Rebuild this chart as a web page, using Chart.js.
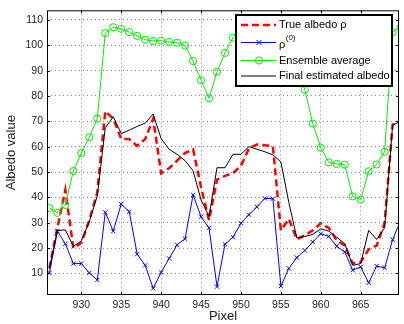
<!DOCTYPE html>
<html>
<head>
<meta charset="utf-8">
<script src="https://cdn.jsdelivr.net/npm/chart.js@4/dist/chart.umd.min.js"></script>
<style>
html,body{margin:0;padding:0;background:#fff;}
#wrap{width:404px;height:324px;}
</style>
</head>
<body>
<div id="wrap"><canvas id="c" width="404" height="324"></canvas></div>
<script>
const pixels = [926,927,928,929,930,931,932,933,934,935,936,937,938,939,940,941,942,943,944,945,946,947,948,949,950,951,952,953,954,955,956,957,958,959,960,961,962,963,964,965,966,967,968,969,970];
const trueAlbedo = [12,28,43,20,22,31,42,74,71,63,63,60.3,63,71,49.5,51.5,54.5,57.5,59,44,31,47,48.5,49.5,52.5,59.3,60.9,60.6,60.2,27,31.5,23.5,25,27,29.8,28,23,21.1,13.9,14.5,19.5,21,30,68.7,70];
const rho0 = [10.2,26.7,21.7,13.9,13.9,10.2,7.4,34.1,26.7,37.4,34.4,17.6,13.2,4.1,10.4,15.9,21.3,23.7,41,32.4,28,4.8,21.5,24.3,29.8,33.2,36.3,39.6,39.5,5,12,16.3,19.1,22.4,25.7,24.6,20.7,18.5,11.3,12.6,6.3,12.9,12.2,23.3,30.9];
const ensembleAvg = [35.8,33.9,37.0,50.4,57.5,63.7,71.1,104.8,107.1,106.5,105.2,103.7,102.2,101.7,101.8,101.3,101,99.9,93.8,86.2,79.1,89.6,97,103,107,108,108,107,106,105,103,95,82.4,69.1,59.6,53.8,53.2,52.9,40.4,39.1,50.3,53,58,105.2,107];
const finalAlbedo = [12,26.9,27.2,20.7,22.8,30.5,40.6,67.5,71.8,65.2,66.5,68,69.3,72.9,63.2,59,57,54.5,50.5,39,32.5,51.7,51.7,57,57,60,59,58,56.8,54,38,24,24.6,25.4,27.6,26.7,24.3,21.7,13.2,13.9,27,23.4,28,68.5,70];
const xTicks = [930,935,940,945,950,955,960,965];
const yTicks = [10,20,30,40,50,60,70,80,90,100,110];
const legendLabels = ['True albedo \u03C1', '\u03C1', 'Ensemble average', 'Final estimated albedo'];

const pts = arr => pixels.map((p,i)=>({x:p,y:arr[i]}));
const FONT = "'Liberation Sans', Arial, Helvetica, sans-serif";

const framePlugin = {
  id:'frame',
  afterDatasetsDraw(chart){
    const {ctx, chartArea:a} = chart;
    ctx.save();
    ctx.strokeStyle = '#000';
    ctx.lineWidth = 1;
    ctx.strokeRect(a.left+0.5, a.top+0.5, a.right-a.left-1, a.bottom-a.top-1);
    // inner tick marks
    const xs = chart.scales.x, ys = chart.scales.y;
    ctx.beginPath();
    xTicks.forEach(t=>{const px=Math.round(xs.getPixelForValue(t))+0.5; ctx.moveTo(px,a.bottom); ctx.lineTo(px,a.bottom-3); ctx.moveTo(px,a.top); ctx.lineTo(px,a.top+3);});
    yTicks.forEach(t=>{const py=Math.round(ys.getPixelForValue(t))+0.5; ctx.moveTo(a.left,py); ctx.lineTo(a.left+3,py); ctx.moveTo(a.right,py); ctx.lineTo(a.right-3,py);});
    ctx.stroke();
    // legend
    const L=236,T=15,R=392,B=86;
    ctx.fillStyle='#fff';
    ctx.fillRect(L,T,R-L,B-T);
    ctx.lineWidth=2;
    ctx.strokeRect(L,T,R-L,B-T);
    const rows=[25,42.5,60.5,76];
    const ds = chart.data.datasets;
    const x0=241,x1=276,xm=259;
    rows.forEach((ry,i)=>{
      const d=ds[i];
      ctx.save();
      ctx.strokeStyle=d.borderColor;
      ctx.lineWidth=d.borderWidth;
      ctx.setLineDash(d.borderDash||[]);
      ctx.beginPath(); ctx.moveTo(x0,ry); ctx.lineTo(x1,ry); ctx.stroke();
      ctx.setLineDash([]);
      if(d.pointStyle==='circle'){
        ctx.lineWidth=1; ctx.beginPath(); ctx.arc(xm,ry,3.6,0,Math.PI*2); ctx.stroke();
      } else if(d.pointStyle==='crossRot'){
        ctx.lineWidth=1; ctx.beginPath();
        ctx.moveTo(xm-2.5,ry-2.5); ctx.lineTo(xm+2.5,ry+2.5);
        ctx.moveTo(xm-2.5,ry+2.5); ctx.lineTo(xm+2.5,ry-2.5); ctx.stroke();
      }
      ctx.restore();
      ctx.fillStyle='#000';
      ctx.font='11px '+FONT;
      ctx.textBaseline='middle';
      ctx.textAlign='left';
      if(i===1){
        ctx.fillText(legendLabels[i],279,ry+2);
        const w=ctx.measureText(legendLabels[i]).width;
        ctx.font='8px '+FONT;
        ctx.fillText('(0)',279+w+0.5,ry-5);
      } else {
        ctx.fillText(legendLabels[i],279,ry);
      }
    });
    ctx.restore();
  }
};

new Chart(document.getElementById('c'),{
  type:'line',
  data:{
    datasets:[
      {label:legendLabels[0], data:pts(trueAlbedo), borderColor:'#ff0000', borderWidth:2.5, borderDash:[7,4], pointRadius:0, fill:false, tension:0, order:4},
      {label:legendLabels[1], data:pts(rho0), borderColor:'#0000ff', borderWidth:1, pointStyle:'crossRot', pointRadius:3, pointBorderColor:'#0000ff', pointBorderWidth:1, fill:false, tension:0, order:3},
      {label:legendLabels[2], data:pts(ensembleAvg), borderColor:'#00ee00', borderWidth:1, pointStyle:'circle', pointRadius:3.6, pointBorderColor:'#00ee00', pointBackgroundColor:'rgba(0,0,0,0)', pointBorderWidth:1, fill:false, tension:0, order:2},
      {label:legendLabels[3], data:pts(finalAlbedo), borderColor:'#000000', borderWidth:1, pointRadius:0, fill:false, tension:0, order:1}
    ]
  },
  options:{
    responsive:false,
    animation:false,
    devicePixelRatio:1,
    layout:{padding:{top:8,right:1,bottom:0,left:0}},
    plugins:{legend:{display:false}, tooltip:{enabled:false}},
    scales:{
      x:{
        type:'linear', min:925.7, max:969.8,
        afterFit(s){ s.height=29; },
        afterBuildTicks(s){ s.ticks = xTicks.map(v=>({value:v})); },
        ticks:{includeBounds:false, padding:4, color:'#222', font:{family:FONT, size:10.5}, maxRotation:0, callback:v=>String(v)},
        grid:{color:'#888', borderDash:[1,3], drawTicks:false, lineWidth:1},
        border:{display:false, dash:[1,3]},
        title:{display:true, text:'Pixel', color:'#222', font:{family:FONT, size:13}, padding:{top:0,bottom:0}}
      },
      y:{
        min:1.5, max:113.8,
        afterFit(s){ s.width=47; },
        afterBuildTicks(s){ s.ticks = yTicks.map(v=>({value:v})); },
        ticks:{includeBounds:false, padding:4, color:'#222', font:{family:FONT, size:10.5}, callback:v=>String(v)},
        grid:{color:'#888', borderDash:[1,3], drawTicks:false, lineWidth:1},
        border:{display:false, dash:[1,3]},
        title:{display:true, text:'Albedo value', color:'#222', font:{family:FONT, size:13}, padding:{top:4,bottom:0}}
      }
    }
  },
  plugins:[framePlugin]
});
</script>
</body>
</html>
